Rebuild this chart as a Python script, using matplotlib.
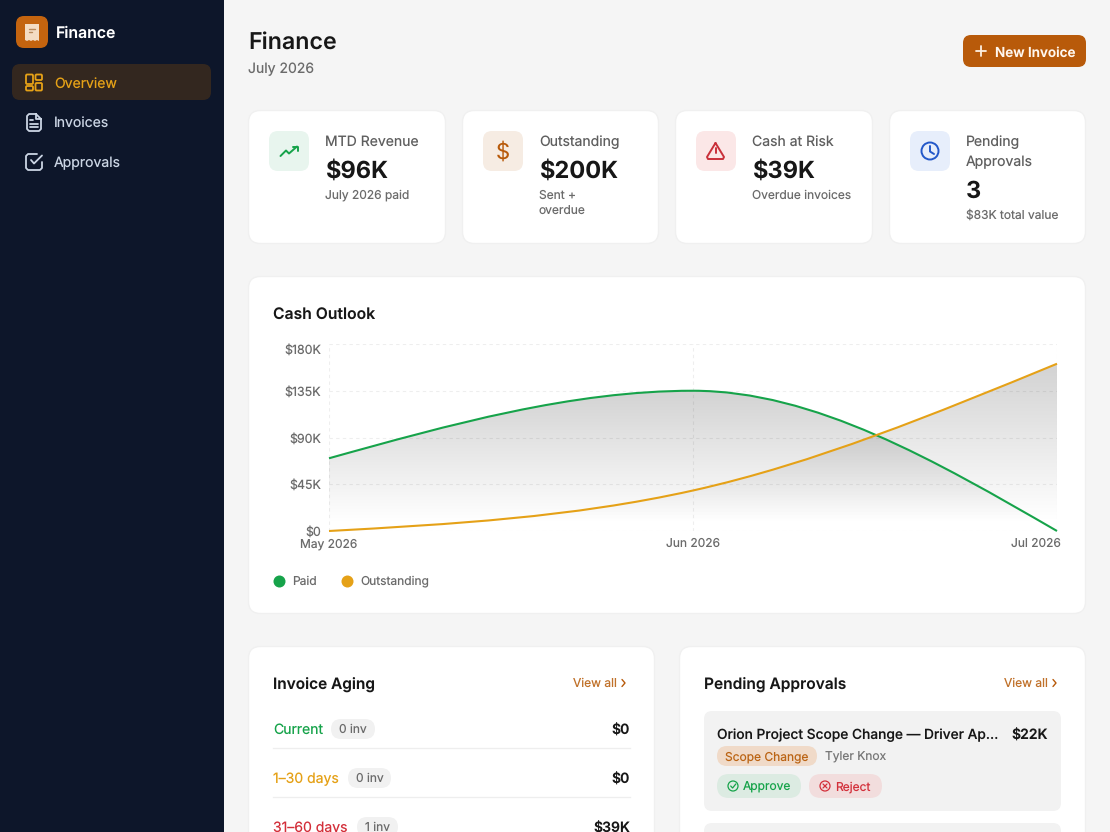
"""Finance dashboard screenshot: page chrome in pixel coordinates, chart on its own axes."""

import matplotlib

matplotlib.use("Agg")  # Headless
import matplotlib.pyplot as plt
import numpy as np
from matplotlib.lines import Line2D
from matplotlib.patches import Circle, FancyBboxPatch, PathPatch, Polygon
from matplotlib.path import Path
from matplotlib.transforms import ScaledTranslation

W, H = 1110, 832

months = ["May 2026", "Jun 2026", "Jul 2026"]
paid = [70, 135, 0]  # $K
outstanding = [0, 39, 161]  # $K
y_ticks = [0, 45, 90, 135, 180]
y_tick_labels = ["$0", "$45K", "$90K", "$135K", "$180K"]

nav_items = ["Overview", "Invoices", "Approvals"]

kpi_labels = [["MTD Revenue"], ["Outstanding"], ["Cash at Risk"], ["Pending", "Approvals"]]
kpi_values = ["$96K", "$200K", "$39K", "3"]
kpi_details = [["July 2026 paid"], ["Sent +", "overdue"], ["Overdue invoices"], ["$83K total value"]]

aging_labels = ["Current", "1–30 days", "31–60 days"]
aging_counts = ["0 inv", "0 inv", "1 inv"]
aging_amounts = ["$0", "$0", "$39K"]

GREEN = "#16a34a"
AMBER = "#e5a117"
RED = "#d32f3a"
ORANGE = "#b85a0a"
BLUE = "#2358c9"
INK = "#171717"
MUTED = "#6b6b6b"
BORDER = "#f0f0f0"

plt.rcParams["font.family"] = ["Inter", "DejaVu Sans"]
plt.rcParams["text.hinting"] = "no_hinting"
plt.rcParams["text.hinting_factor"] = 1

fig = plt.figure(figsize=(W / 100, H / 100), dpi=100, facecolor="#f5f5f5")
page = fig.add_axes([0, 0, 1, 1])
page.set_xlim(0, W)
page.set_ylim(H, 0)
page.axis("off")


def px(size):
    return size * 0.72


def box(x0, y0, x1, y1, r, fc, ec="none", lw=1.0, z=1):
    p = FancyBboxPatch((x0, y0), x1 - x0, y1 - y0, boxstyle=f"round,pad=0,rounding_size={r}",
                       fc=fc, ec=ec, lw=lw, zorder=z)
    page.add_patch(p)
    return p


def txt(x, y, s, size=14, color=INK, weight="normal", ha="left"):
    # y is the middle of the line box, baseline sits a fixed share of the size below it
    page.text(x, y + 0.36 * size, s, fontsize=px(size), color=color, fontweight=weight, ha=ha,
              va="baseline", zorder=5)


def stroke(xs, ys, color, lw=1.3):
    page.plot(xs, ys, color=color, lw=lw, solid_capstyle="round", solid_joinstyle="round", zorder=4)


def pill(x0, y0, x1, y1, fc):
    box(x0, y0, x1, y1, (y1 - y0) / 2, fc, z=2)


def monotone_path(xs, ys):
    # same cubic the chart library uses for its "monotone" curve
    xs = np.asarray(xs, dtype=float)
    ys = np.asarray(ys, dtype=float)
    h = np.diff(xs)
    s = np.diff(ys) / h
    t = np.zeros(len(xs))
    for i in range(1, len(xs) - 1):
        p = (s[i - 1] * h[i] + s[i] * h[i - 1]) / (h[i - 1] + h[i])
        t[i] = (np.sign(s[i - 1]) + np.sign(s[i])) * min(abs(s[i - 1]), abs(s[i]), 0.5 * abs(p))
    t[0] = (3 * s[0] - t[1]) / 2
    t[-1] = (3 * s[-1] - t[-2]) / 2
    verts = [(xs[0], ys[0])]
    codes = [Path.MOVETO]
    for i in range(len(h)):
        d = h[i] / 3
        verts += [(xs[i] + d, ys[i] + d * t[i]), (xs[i + 1] - d, ys[i + 1] - d * t[i + 1]), (xs[i + 1], ys[i + 1])]
        codes += [Path.CURVE4] * 3
    return verts, codes


# Sidebar
page.add_patch(plt.Rectangle((0, 0), 224, H, fc="#0d162a", ec="none", zorder=1))
box(16, 16, 48, 48, 8, "#c4640f", z=2)
page.add_patch(Polygon([(25, 24), (39, 24), (39, 41), (37, 40), (35, 41), (33, 40), (31, 41), (29, 40), (27, 41), (25, 40)],
                       fc="#f4dcc3", ec="none", zorder=3))
stroke([29, 35], [29, 29], "#b98a5c", 1)
stroke([29, 32], [32, 32], "#b98a5c", 1)
txt(56, 32, "Finance", 15.8, "#ffffff", 600)

box(12, 64, 211, 100, 8, "#33271f", z=2)
for name, y, col in zip(nav_items, [82.5, 122, 162], [AMBER, "#cbd5e4", "#cbd5e4"]):
    txt(54, y, name, 14, col)

# nav icons
for x0, y0, x1, y1 in [(26, 74.5, 33, 84), (35.5, 74.5, 42, 80), (35.5, 83, 42, 90.5), (26, 86, 33, 90.5)]:
    box(x0, y0, x1, y1, 1.2, "none", AMBER, 1.3, z=4)
nav_c = "#cbd5e4"
stroke([36, 29, 27, 27, 29, 39, 41, 41, 36, 36, 41], [114, 114, 116, 129, 131, 131, 129, 119, 114, 119, 119], nav_c)
stroke([30, 33], [120, 120], nav_c)
stroke([30, 38], [123.5, 123.5], nav_c)
stroke([30, 38], [127, 127], nav_c)
stroke([42, 42, 40, 28, 26, 26, 28, 37], [162, 168, 170, 170, 168, 156, 154, 154], nav_c)
stroke([31, 34, 42], [160, 163.5, 155.5], nav_c)

# Header
txt(248, 40, "Finance", 23.2, INK, 600)
txt(248, 68, "July 2026", 14, MUTED)
box(963, 35, 1086, 67, 8, ORANGE, z=2)
stroke([976, 986], [51, 51], "#fdf0e2", 1.3)
stroke([981, 981], [46, 56], "#fdf0e2", 1.3)
txt(995, 51.5, "New Invoice", 13.5, "#fff7ef", 600)

# KPI cards
card_x = [(248.5, 445.5), (462.5, 658.5), (675.5, 872.5), (889.5, 1085.5)]
icon_bg = ["#e8f5ee", "#f6ece3", "#fbe7e7", "#e7eefb"]
for (x0, x1), bg, labels, value, details in zip(card_x, icon_bg, kpi_labels, kpi_values, kpi_details):
    box(x0, 110.5, x1, 243.5, 12, "#ffffff", BORDER)
    ix = x0 + 20.5
    box(ix, 131, ix + 40, 171, 9, bg, z=2)
    tx = ix + 56
    y = 141 + 20 * (len(labels) - 1)
    for i, line in enumerate(labels):
        txt(tx, 141 + 20 * i, line, 14, "#5f5f5f")
    txt(tx, y + 28.5, value, 23.6, INK, 700)
    for i, line in enumerate(details):
        txt(tx, y + 53.5 + 16 * i, line, 12, MUTED)

# KPI icons
stroke([280.5, 286, 289, 297], [156, 150.5, 153.5, 146.5], GREEN, 1.4)
stroke([292.5, 297.5, 297.5], [146.5, 146.5, 151], GREEN, 1.4)
txt(503, 151, "$", 22, ORANGE, ha="center")
stroke([715.5, 707, 708, 723, 724, 715.5], [143, 157, 159, 159, 157, 143], "#c9303a", 1.4)
stroke([715.5, 715.5], [148, 152.5], "#c9303a", 1.4)
stroke([715.5, 715.5], [155.5, 155.6], "#c9303a", 1.4)
page.add_patch(Circle((930, 151), 8.5, fc="none", ec=BLUE, lw=1.4, zorder=4))
stroke([930, 930, 934], [146, 151.5, 154], BLUE, 1.4)

# Chart card
box(248.5, 276.5, 1085.5, 613.5, 12, "#ffffff", BORDER)
txt(273, 313, "Cash Outlook", 15.7, INK, 600)

chart = fig.add_axes([329 / W, 1 - 531 / H, (1057 - 329) / W, (531 - 344) / H], zorder=3)
chart.patch.set_visible(False)
x_pos = np.arange(len(months))

for series in (paid, outstanding):
    verts, codes = monotone_path(x_pos, series)
    outline = Path(verts + [(x_pos[-1], 0), (x_pos[0], 0), (x_pos[0], 0)],
                   codes + [Path.LINETO, Path.LINETO, Path.CLOSEPOLY])
    rgba = np.zeros((256, 1, 4))
    rgba[..., 3] = np.clip((np.linspace(1, 0, 256) - 0.05) / 0.9, 0, 1)[:, None] * 0.17
    im = chart.imshow(rgba, extent=(x_pos[0], x_pos[-1], 0, max(series)), aspect="auto", origin="upper", zorder=1)
    im.set_clip_path(PathPatch(outline, transform=chart.transData))

for series, col in ((paid, GREEN), (outstanding, AMBER)):
    verts, codes = monotone_path(x_pos, series)
    chart.add_patch(PathPatch(Path(verts, codes), fc="none", ec=col, lw=1.5, clip_on=False, zorder=3))

chart.set_xlim(x_pos[0], x_pos[-1])
chart.set_ylim(0, 180)
chart.set_yticks(y_ticks, y_tick_labels)
chart.set_xticks(x_pos, months)
chart.tick_params(axis="y", length=0, pad=px(8), labelsize=px(12.4), labelcolor=MUTED)
chart.tick_params(axis="x", length=0, pad=px(7), labelsize=px(12), labelcolor=MUTED)
chart.grid(True, color="#eeeeee", lw=0.8, ls=(0, (3, 3)), zorder=0)
chart.set_axisbelow(True)
for spine in chart.spines.values():
    spine.set_visible(False)
top = chart.get_yticklabels()[-1]
top.set_va("top")
top.set_transform(top.get_transform() + ScaledTranslation(0, -0.5 / 100, fig.dpi_scale_trans))
last = chart.get_xticklabels()[-1]
last.set_ha("right")
last.set_transform(last.get_transform() + ScaledTranslation(4 / 100, 0, fig.dpi_scale_trans))

handles = [Line2D([], [], ls="none", marker="o", ms=px(12), mfc=c, mec="none", label=n)
           for c, n in ((GREEN, "Paid"), (AMBER, "Outstanding"))]
legend = chart.legend(handles=handles, loc="center left", bbox_to_anchor=(273 / W, 1 - 581.5 / H),
                      bbox_transform=fig.transFigure, ncol=2, frameon=False, fontsize=px(12), borderpad=0,
                      borderaxespad=0, handlelength=1, handletextpad=0.63, columnspacing=1.95, labelcolor=MUTED)

# Invoice Aging card
box(248.5, 646.5, 654.5, 860, 12, "#ffffff", BORDER)
txt(273, 683, "Invoice Aging", 15.4, INK, 600)
txt(573, 683, "View all", 12, "#c0712a")
stroke([622, 625, 622], [679.5, 683, 686.5], ORANGE, 1.0)

aging_rows = [(729, GREEN, 331, 375), (778, AMBER, 348, 391), (827, RED, 357, 398)]
for (y, col, p0, p1), name, count, amount in zip(aging_rows, aging_labels, aging_counts, aging_amounts):
    txt(273, y, name, 14, col)
    pill(p0, y - 10, p1, y + 10, "#f1f1f1")
    txt((p0 + p1) / 2, y, count, 12, MUTED, ha="center")
    txt(630, y + 1, amount, 14, INK, 600, ha="right")
    if y < 800:
        page.plot([273, 630], [y + 18.5, y + 18.5], color="#eeeeee", lw=0.9, zorder=2)

# Pending Approvals card
box(679.5, 646.5, 1085.5, 860, 12, "#ffffff", BORDER)
txt(704, 683, "Pending Approvals", 15.5, INK, 600)
txt(1004, 683, "View all", 12, "#c0712a")
stroke([1053, 1056, 1053], [679.5, 683, 686.5], ORANGE, 1.0)

box(704, 711, 1061, 811, 8, "#f2f2f2", z=2)
box(704, 823, 1061, 900, 8, "#f2f2f2", z=2)
txt(717, 734, "Orion Project Scope Change — Driver Ap...", 13.75, INK, 500)
txt(1048, 735, "$22K", 14, INK, 600, ha="right")
pill(717, 746, 817, 766, "#f0dac8")
txt(725, 756, "Scope Change", 12, "#bb6414")
txt(825, 756, "Tyler Knox", 12, "#777777")
pill(717, 774, 801, 798, "#dcebe2")
page.add_patch(Circle((733, 786), 5, fc="none", ec=GREEN, lw=0.9, zorder=4))
stroke([730.7, 732.6, 735.8], [786, 788, 784], GREEN, 0.9)
txt(743, 786, "Approve", 12, GREEN)
pill(809, 774, 882, 798, "#f2dddd")
page.add_patch(Circle((825, 786), 5, fc="none", ec=RED, lw=0.9, zorder=4))
stroke([823, 827], [784, 788], RED, 0.9)
stroke([823, 827], [788, 784], RED, 0.9)
txt(835, 786, "Reject", 12, RED)

fig.savefig("out.png", dpi=100, facecolor=fig.get_facecolor())
